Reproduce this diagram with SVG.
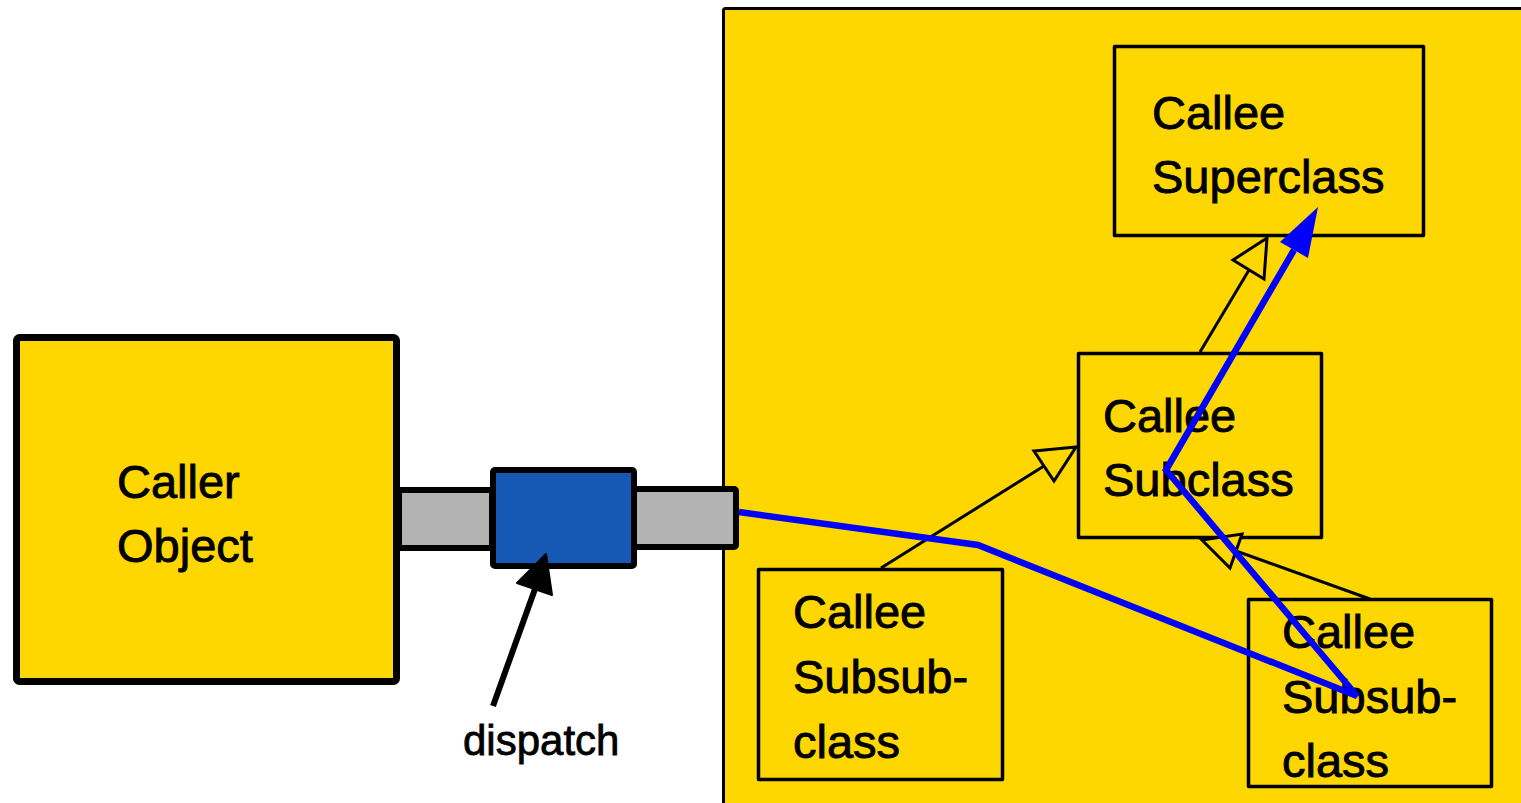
<svg xmlns="http://www.w3.org/2000/svg" width="1521" height="803" viewBox="0 0 1521 803">
<style>
.lbl{font-family:"Liberation Sans",Arial,sans-serif;font-size:47px;fill:#000;stroke:#000;stroke-width:0.9}
.box{fill:#FFD700;stroke:#000;stroke-width:3.5;stroke-linejoin:round}
.inh{fill:none;stroke:#000;stroke-width:3}
.head{fill:#FFD700;stroke:#000;stroke-width:3;stroke-linejoin:miter}
</style>
<rect width="1521" height="803" fill="#fff"/>
<g id="panel">
<rect x="723.5" y="8.5" width="820" height="820" fill="#FFD700" stroke="#000" stroke-width="3" rx="2"/>
</g>
<g id="caller">
<rect x="16.5" y="337.5" width="380" height="344" fill="#FFD700" stroke="#000" stroke-width="7" rx="3" stroke-linejoin="round"/>
<text class="lbl" x="117" y="498">Caller</text>
<text class="lbl" x="117" y="562">Object</text>
</g>
<g id="connector-bar">
<rect x="399" y="490" width="93" height="58" fill="#b3b3b3" stroke="#000" stroke-width="6"/>
<rect x="634" y="489" width="102" height="58" fill="#b3b3b3" stroke="#000" stroke-width="6" rx="2"/>
</g>
<g id="dispatcher">
<rect x="493" y="470" width="141" height="96" fill="#1659b4" stroke="#000" stroke-width="6" rx="2" stroke-linejoin="round"/>
</g>
<g id="superclass">
<rect class="box" x="1114.5" y="46.5" width="309" height="189"/>
<text class="lbl" x="1152" y="129">Callee</text>
<text class="lbl" x="1152" y="193">Superclass</text>
</g>
<g id="subclass">
<rect class="box" x="1078.5" y="353.5" width="243" height="184"/>
<text class="lbl" x="1103" y="432">Callee</text>
<text class="lbl" x="1103" y="496">Subclass</text>
</g>
<g id="subsub-left">
<rect class="box" x="758.5" y="569.5" width="244" height="210"/>
<text class="lbl" x="793" y="628">Callee</text>
<text class="lbl" x="793" y="693">Subsub-</text>
<text class="lbl" x="793" y="758">class</text>
</g>
<g id="subsub-right">
<rect class="box" x="1248.5" y="599.5" width="243" height="187"/>
<text class="lbl" x="1282" y="648">Callee</text>
<text class="lbl" x="1282" y="713">Subsub-</text>
<text class="lbl" x="1282" y="777">class</text>
</g>
<g id="connectors">
<line class="inh" x1="1200" y1="352" x2="1249" y2="270"/>
<polygon class="head" points="1267,238 1233,260 1264,279"/>
<line class="inh" x1="881" y1="568" x2="1044" y2="466"/>
<polygon class="head" points="1076,447 1034,451 1054,481"/>
<line class="inh" x1="1370" y1="599" x2="1236" y2="551"/>
<polygon class="head" points="1202,540 1242,534 1230,568"/>
<line x1="493" y1="706" x2="535" y2="589" stroke="#000" stroke-width="6"/>
<polygon points="546,554 517,583 552,595" fill="#000" stroke="#000" stroke-width="2" stroke-linejoin="round"/>
<polyline points="739,512 978,545 1357,696 1166,470 1294,250" fill="none" stroke="#0000ff" stroke-width="6.5" stroke-linejoin="miter"/>
<polygon points="1318,207 1280,242 1308,258" fill="#0000ff"/>
</g>
<text x="463" y="755" style="font-family:'Liberation Sans',Arial,sans-serif;font-size:42px;fill:#000;stroke:#000;stroke-width:0.8">dispatch</text>
</svg>
